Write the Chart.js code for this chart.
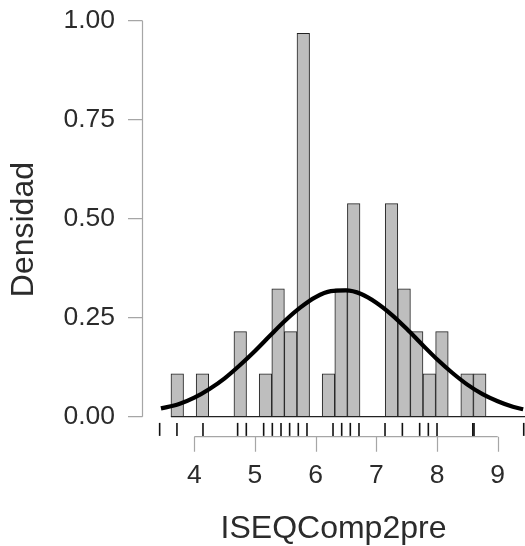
<!DOCTYPE html>
<html>
<head>
<meta charset="utf-8">
<script src="https://cdn.jsdelivr.net/npm/chart.js@4"></script>
<style>
  html, body { margin: 0; padding: 0; background: #fff; }
  #wrap { width: 525px; height: 546px; }
</style>
</head>
<body>
<div id="wrap"><canvas id="chart" width="525" height="546"></canvas></div>
<script>
// histogram bins (centres) and their densities
const binWidth = 0.2077;
const binCenters = [3.719, 3.927, 4.134, 4.342, 4.550, 4.757, 4.965, 5.173, 5.381, 5.588,
                    5.796, 6.004, 6.211, 6.419, 6.627, 6.835, 7.042, 7.250, 7.458, 7.665,
                    7.873, 8.081, 8.288, 8.496, 8.704];
const densities = [0.108, 0, 0.108, 0, 0, 0.215, 0, 0.108, 0.323, 0.215,
                   0.968, 0, 0.108, 0.323, 0.538, 0, 0, 0.538, 0.323, 0.215,
                   0.108, 0.215, 0, 0.108, 0.108];

// fitted density curve
const curveX = [3.45, 3.75, 4.0, 4.25, 4.5, 4.75, 5.0, 5.25, 5.5, 5.75, 6.0, 6.25, 6.5,
                6.75, 7.0, 7.25, 7.5, 7.75, 8.0, 8.25, 8.5, 8.75, 9.0, 9.25, 9.42];
const curveY = [0.021, 0.032, 0.048, 0.070, 0.097, 0.130, 0.166, 0.205, 0.243, 0.276, 0.302, 0.317, 0.319,
                0.310, 0.288, 0.258, 0.222, 0.183, 0.145, 0.111, 0.081, 0.057, 0.039, 0.025, 0.019];

// rug of the raw observations
const rugValues = [3.429, 3.714, 4.143, 4.714, 4.857, 5.143, 5.286, 5.429, 5.571, 5.714, 5.857,
                   6.286, 6.429, 6.571, 6.714, 7.143, 7.429, 7.714, 7.857, 8.0, 8.59, 8.61, 9.429];
const rugLevel = -0.032;

const xTicks = [4, 5, 6, 7, 8, 9];
const yTicks = [0, 0.25, 0.5, 0.75, 1];
const xTitle = 'ISEQComp2pre';
const yTitle = 'Densidad';

const axisColor = '#a6a6a6';
const textColor = '#2b2b2b';
const fontFamily = '"Liberation Sans", Arial, Helvetica, sans-serif';

// R-style detached axes + bar baseline
const axesPlugin = {
  id: 'rAxes',
  afterDatasetsDraw(chart) {
    const ctx = chart.ctx;
    const xs = chart.scales.x, ys = chart.scales.y;
    const y0 = ys.getPixelForValue(0);
    const left = chart.chartArea.left;
    ctx.save();
    // baseline under the bars
    ctx.strokeStyle = '#222';
    ctx.lineWidth = 1.2;
    ctx.beginPath();
    ctx.moveTo(xs.getPixelForValue(binCenters[0] - binWidth / 2), y0);
    ctx.lineTo(chart.chartArea.right, y0);
    ctx.stroke();
    // y axis line and ticks
    ctx.strokeStyle = axisColor;
    ctx.lineWidth = 1.2;
    ctx.beginPath();
    ctx.moveTo(left + 0.5, ys.getPixelForValue(yTicks[0]));
    ctx.lineTo(left + 0.5, ys.getPixelForValue(yTicks[yTicks.length - 1]));
    yTicks.forEach(v => {
      const py = ys.getPixelForValue(v);
      ctx.moveTo(left - 14, py);
      ctx.lineTo(left + 0.5, py);
    });
    ctx.stroke();
    // x axis line and ticks
    const ax = y0 + 20;
    ctx.beginPath();
    ctx.moveTo(xs.getPixelForValue(xTicks[0]), ax);
    ctx.lineTo(xs.getPixelForValue(xTicks[xTicks.length - 1]), ax);
    xTicks.forEach(v => {
      const px = Math.round(xs.getPixelForValue(v)) + 0.5;
      ctx.moveTo(px, ax);
      ctx.lineTo(px, ax + 15);
    });
    ctx.stroke();
    ctx.restore();
  }
};

new Chart(document.getElementById('chart'), {
  type: 'bar',
  data: {
    datasets: [
      {
        type: 'line',
        data: curveX.map((x, i) => ({ x: x, y: curveY[i] })),
        borderColor: '#000',
        borderWidth: 4.2,
        pointRadius: 0,
        tension: 0.4,
        cubicInterpolationMode: 'monotone',
        fill: false,
        clip: false,
        order: 0
      },
      {
        type: 'scatter',
        data: rugValues.map(v => ({ x: v, y: rugLevel })),
        pointStyle: 'line',
        pointRotation: 90,
        pointRadius: 6.5,
        pointBorderColor: '#111',
        pointBorderWidth: 1.6,
        borderColor: '#111',
        clip: false,
        order: 1
      },
      {
        type: 'bar',
        data: binCenters.map((x, i) => ({ x: x, y: densities[i] })),
        backgroundColor: '#bebebe',
        borderColor: '#222',
        borderWidth: 1,
        borderSkipped: false,
        barPercentage: 1,
        categoryPercentage: 1,
        order: 2
      }
    ]
  },
  options: {
    responsive: false,
    animation: false,
    devicePixelRatio: 1,
    layout: { autoPadding: false, padding: { top: 20.7, right: 0, bottom: 0, left: 0 } },
    plugins: { legend: { display: false }, tooltip: { enabled: false } },
    scales: {
      x: {
        type: 'linear',
        min: 3.138,
        max: 9.45,
        offset: false,
        afterFit: s => { s.height = 546 - 438.5; },
        afterBuildTicks: s => { s.ticks = xTicks.map(v => ({ value: v })); },
        grid: { display: false, drawTicks: true, tickLength: 21.6, offset: false },
        border: { display: false },
        ticks: {
          autoSkip: false,
          maxRotation: 0,
          padding: 0,
          color: textColor,
          font: { family: fontFamily, size: 26.5 },
          callback: v => String(v)
        },
        title: {
          display: true,
          text: xTitle,
          color: textColor,
          font: { family: fontFamily, size: 32 },
          padding: { top: 0, bottom: -2.5 }
        }
      },
      y: {
        min: -0.055,
        max: 1,
        afterFit: s => { s.width = 142; },
        afterBuildTicks: s => { s.ticks = yTicks.map(v => ({ value: v })); },
        grid: { display: false, drawTicks: true, tickLength: 27 },
        border: { display: false },
        ticks: {
          padding: 0,
          color: textColor,
          font: { family: fontFamily, size: 26.5 },
          callback: v => Number(v).toFixed(2)
        },
        title: {
          display: true,
          text: yTitle,
          color: textColor,
          font: { family: fontFamily, size: 32 },
          padding: { top: 5, bottom: 0 }
        }
      }
    }
  },
  plugins: [axesPlugin]
});
</script>
</body>
</html>
